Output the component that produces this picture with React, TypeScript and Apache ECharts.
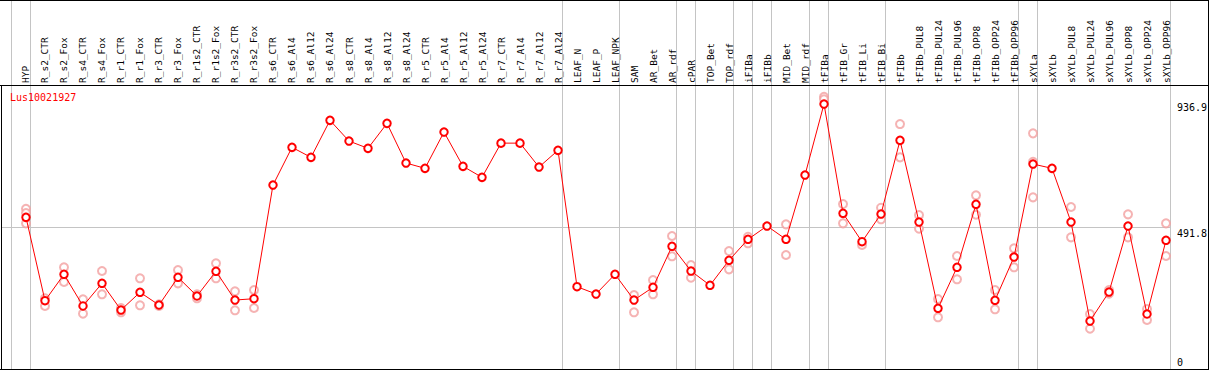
import React, { useEffect, useRef } from "react";
import * as echarts from "echarts";

const geneId = "Lus10021927";

const categories = [
  "HYP", "R_s2_CTR", "R_s2_Fox", "R_s4_CTR", "R_s4_Fox", "R_r1_CTR", "R_r1_Fox",
  "R_r3_CTR", "R_r3_Fox", "R_r1s2_CTR", "R_r1s2_Fox", "R_r3s2_CTR", "R_r3s2_Fox",
  "R_s6_CTR", "R_s6_Al4", "R_s6_Al12", "R_s6_Al24", "R_s8_CTR", "R_s8_Al4",
  "R_s8_Al12", "R_s8_Al24", "R_r5_CTR", "R_r5_Al4", "R_r5_Al12", "R_r5_Al24",
  "R_r7_CTR", "R_r7_Al4", "R_r7_Al12", "R_r7_Al24", "LEAF_N", "LEAF_P", "LEAF_NPK",
  "SAM", "AR_Bet", "AR_rdf", "cPAR", "TOP_Bet", "TOP_rdf", "iFIBa", "iFIBb",
  "MID_Bet", "MID_rdf", "tFIBa", "tFIB_Gr", "tFIB_Li", "tFIB_Bi", "tFIBb",
  "tFIBb_PUL8", "tFIBb_PUL24", "tFIBb_PUL96", "tFIBb_OPP8", "tFIBb_OPP24",
  "tFIBb_OPP96", "sXYLa", "sXYLb", "sXYLb_PUL8", "sXYLb_PUL24", "sXYLb_PUL96",
  "sXYLb_OPP8", "sXYLb_OPP24", "sXYLb_OPP96",
];

const means = [
  527.8, 226.7, 322, 207.6, 289.5, 193.1, 257, 211.2, 311.2, 243.7, 332.9, 229.2, 233.9,
  644.4, 780.5, 744.4, 878, 803.2, 776.9, 867.1, 723.8, 704.7, 835.7, 711.9, 672.2,
  795.7, 795.7, 709.4, 769.7, 277.3, 250.9, 322,
  229.2, 275.1, 423.1, 333.9, 282.3, 372.6, 448.4, 496.4, 448.4, 680.5, 936.9,
  542.2, 439.7, 539.7, 805.8, 510.8, 199.3, 347.3, 574.7, 228.2, 384.5,
  720.2, 704.7, 510.8, 153.4, 258.1, 496.4, 178.7, 444.8,
];

const rep1 = [
  558.8, 235.4, 347.3, 231.8, 334, 200.4, 307.6, 213.7, 337.5, 249.8, 361.7, 260.6, 265.3,
  null, null, null, null, null, null, null, null, null, null, null, null,
  null, null, null, null, null, null, null,
  247.3, 301.4, 460.3, 355.6, null, 406.1, 457.8, null, 502.5, null, 963,
  575.8, 427.8, 562.5, 864.6, 536.1, 232.9, 388.1, 607.2, 265.3, 415.9,
  831, null, 565, 178.7, 265.3, 538.6, 196.8, 506.1,
];

const rep2 = [
  543.3, 207.6, 294.2, 179.8, 249.8, 184.8, 210.1, 207.6, 289.5, 235.4, 307.6, 192.1, 200.4,
  null, null, null, null, null, null, null, null, null, null, null, null,
  null, null, null, null, null, null, null,
  184.8, 249.8, 387, 309.7, null, 340, 434, null, 391.7, null, 953.8,
  506.1, null, 520.6, 744.4, 486.6, 166.8, 304, 537.2, 195.7, 347.3,
  728.5, null, 455.6, 125.6, 252, 455.6, 157, 388.1,
];

const rep3 = [
  506, null, null, null, null, null, null, null, null, null, null, null, null,
  null, null, null, null, null, null, null, null, null, null, null, null,
  null, null, null, null, null, null, null,
  null, null, null, null, null, null, null, null, null, null, null,
  null, null, null, null, null, null, null, null, null, null,
  600, null, null, null, null, null, null, null,
];

const yTickLabels = [0, 491.8, 936.9];
const refLineValue = 491.8;
// index of the last category of each group (a grey separator follows it)
const groupEnds = [-1, 0, 28, 31, 34, 35, 37, 38, 39, 41, 42, 45, 52, 53, 60];

export default function App() {
  const ref = useRef<HTMLDivElement>(null);

  useEffect(() => {
    if (!ref.current) return;
    const chart = echarts.init(ref.current, null, { renderer: "svg" });
    const mono = "DejaVu Sans Mono";
    const gridTop = 86;
    const gridLeft = 2;
    const gridRight = 38.3;
    const gridBottom = 6.5;
    const xMin = -1.263;
    const xMax = 60.247;
    const sepOffset = 0.23;

    const repData: [number, number][] = [];
    [rep1, rep2, rep3].forEach((arr) =>
      arr.forEach((v, i) => {
        if (v !== null && v !== undefined) repData.push([i, v as number]);
      })
    );
    const meanData = means.map((v, i) => [i, v]);

    chart.setOption({
      animation: false,
      backgroundColor: "#ffffff",
      grid: { left: gridLeft, right: gridRight, top: gridTop, bottom: gridBottom, containLabel: false },
      xAxis: {
        type: "value",
        position: "top",
        min: xMin,
        max: xMax,
        axisLine: { show: false },
        axisTick: { show: false },
        splitLine: { show: false },
        axisLabel: {
          customValues: categories.map((_, i) => i),
          formatter: (v: number) => categories[Math.round(v)] ?? "",
          rotate: 90,
          margin: 3,
          fontFamily: mono,
          fontSize: 9.5,
          color: "#000",
        },
      },
      yAxis: {
        type: "value",
        min: 0,
        max: 1002,
        show: false,
        splitLine: { show: false },
      },
      series: [
        {
          type: "scatter",
          data: repData,
          symbol: "emptyCircle",
          symbolSize: 8,
          clip: false,
          itemStyle: { color: "#f2a0a0", borderColor: "#f2a0a0", borderWidth: 1.3 },
          z: 2,
          silent: true,
        },
        {
          type: "line",
          data: meanData,
          symbol: "emptyCircle",
          symbolSize: 7.5,
          clip: false,
          lineStyle: { color: "#ff0000", width: 1 },
          itemStyle: { color: "#ff0000", borderColor: "#ff0000", borderWidth: 1.5 },
          z: 3,
          silent: true,
          markLine: {
            silent: true,
            symbol: "none",
            label: { show: false },
            lineStyle: { color: "#c4c4c4", width: 1, type: "solid" },
            data: [{ yAxis: refLineValue }],
            z: 1,
          },
        },
      ],
    });

    const xPix = (v: number) => chart.convertToPixel({ xAxisIndex: 0 }, v) as number;
    const yPix = (v: number) => chart.convertToPixel({ yAxisIndex: 0 }, v) as number;
    const W = 1209;
    const bottomY = 369;

    const graphics: any[] = [];
    groupEnds.forEach((g) => {
      const x = Math.round(xPix(g + sepOffset)) + 0.5;
      graphics.push({
        type: "line",
        silent: true,
        z: 0,
        shape: { x1: x, y1: 0, x2: x, y2: bottomY },
        style: { stroke: "#c4c4c4", lineWidth: 1 },
      });
    });
    // frame
    graphics.push(
      { type: "line", silent: true, z: 5, shape: { x1: 0, y1: 0.5, x2: W, y2: 0.5 }, style: { stroke: "#000", lineWidth: 1 } },
      { type: "line", silent: true, z: 5, shape: { x1: 0, y1: gridTop - 0.5, x2: W, y2: gridTop - 0.5 }, style: { stroke: "#000", lineWidth: 1 } },
      { type: "line", silent: true, z: 5, shape: { x1: 1.5, y1: gridTop, x2: 1.5, y2: bottomY + 1 }, style: { stroke: "#000", lineWidth: 1 } },
      { type: "line", silent: true, z: 5, shape: { x1: W - 0.5, y1: 0, x2: W - 0.5, y2: bottomY + 1 }, style: { stroke: "#000", lineWidth: 1 } },
      { type: "line", silent: true, z: 5, shape: { x1: 0, y1: bottomY + 0.5, x2: W, y2: bottomY + 0.5 }, style: { stroke: "#000", lineWidth: 1 } }
    );
    graphics.push({
      type: "text",
      silent: true,
      z: 5,
      x: 10,
      y: 92,
      style: { text: geneId, fill: "#ff0000", font: `10px "${mono}"`, textVerticalAlign: "top" },
    });
    yTickLabels.forEach((v) => {
      const isZero = v === 0;
      const top = v === yTickLabels[yTickLabels.length - 1];
      graphics.push({
        type: "text",
        silent: true,
        z: 5,
        x: 1177,
        y: isZero ? yPix(v) + 4 : top ? yPix(v) - 1.5 : yPix(v) + 1,
        style: {
          text: String(v),
          fill: "#000",
          font: `10px "${mono}"`,
          textVerticalAlign: isZero ? "bottom" : "top",
          textAlign: "left",
        },
      });
    });
    chart.setOption({ graphic: graphics });

    return () => chart.dispose();
  }, []);

  return (
    <div
      ref={ref}
      style={{ position: "absolute", left: 0, top: 0, width: 1209, height: 370, background: "#fff" }}
    />
  );
}
